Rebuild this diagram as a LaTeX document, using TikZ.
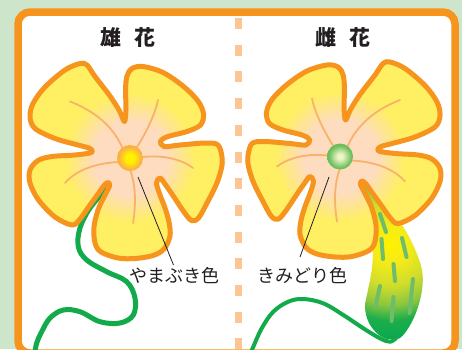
\documentclass[tikz,border=0pt]{standalone}
\usepackage{fontspec}
\newfontfamily\jpfont{Noto Sans CJK JP}

\definecolor{mint}{HTML}{CDE6CB}
\definecolor{frameorange}{HTML}{F7941D}
\definecolor{dashorange}{HTML}{FCC694}
\definecolor{inkgray}{HTML}{231F20}
\definecolor{peach}{HTML}{FDDCC0}
\definecolor{petalyellow}{HTML}{FFEF62}
\definecolor{veinorange}{HTML}{F9B26B}
\definecolor{dotyellow}{HTML}{FFF200}
\definecolor{dotorange}{HTML}{FBB040}
\definecolor{dotpale}{HTML}{EEF5C8}
\definecolor{dotgreen}{HTML}{6CBE5C}
\definecolor{stemgreen}{HTML}{12AA4B}
\definecolor{stripegreen}{HTML}{6DBD6A}
\definecolor{fruitA}{HTML}{FFF200}
\definecolor{fruitB}{HTML}{F4EB18}
\definecolor{fruitC}{HTML}{CFDD2B}
\definecolor{fruitD}{HTML}{8CC63F}
\definecolor{fruitE}{HTML}{1DAE4B}
\definecolor{fruitF}{HTML}{0AA84F}

% petal colouring: peach heart fading to yellow tips
\pgfdeclareradialshading{petalglow}{\pgfpoint{0bp}{0bp}}{%
  color(0bp)=(peach); color(7bp)=(peach); color(12.5bp)=(petalyellow);
  color(25bp)=(petalyellow); color(50bp)=(petalyellow)}
% stamen (male) and stigma (female) centres
\pgfdeclareradialshading{sundot}{\pgfpoint{0bp}{0bp}}{%
  color(0bp)=(dotyellow); color(8bp)=(dotyellow); color(22bp)=(dotorange);
  color(25bp)=(dotorange); color(50bp)=(dotorange)}
\pgfdeclareradialshading{leafdot}{\pgfpoint{0bp}{0bp}}{%
  color(0bp)=(dotpale); color(5bp)=(dotpale); color(22bp)=(dotgreen);
  color(25bp)=(dotgreen); color(50bp)=(dotgreen)}
% young cucumber body
\pgfdeclareradialshading{fruitglow}{\pgfpoint{0bp}{0bp}}{%
  color(0bp)=(fruitA); color(5bp)=(fruitB); color(11bp)=(fruitC);
  color(16bp)=(fruitD); color(20bp)=(fruitE); color(25bp)=(fruitF);
  color(50bp)=(fruitF)}

\tikzset{
  petalshape/.style={insert path={plot[smooth cycle, tension=0.55] coordinates {
    (124.5,121.5) (126,108) (125.5,90) (127,76) (132,68.5) (143,66.5)
    (163,72.5) (183,86) (198,101) (203.5,114) (200.5,125) (187,131.5)
    (168,136.5) (160.5,141)
    (164,146.5) (180,145) (206,143) (218,145) (222,157) (221.5,168)
    (216.5,184) (207,203) (198.5,218) (191.5,220.5) (184,212) (174,197)
    (165,184) (160,178)
    (156.5,183) (160,195) (165,208) (169,222) (170,236) (164,249)
    (153,255.5) (135,258.5) (118,258) (101,252) (95,243) (94,227)
    (98,210) (104,197) (109.5,186) (108,182.5)
    (104,185.5) (98,194) (90,205) (80,219) (72,225) (55,217) (38.5,200)
    (30,183) (30,170) (38,160.5) (52,156.5) (75,155) (91.5,152.5)
    (90,148.5) (78,145) (55,138.5) (35,128.5) (30,117) (33,103.5)
    (45,87) (65,70) (80,63.5) (87,65) (95,76.5) (110,96) (119.5,111)}}},
  petaledge/.style={draw=frameorange, line width=5pt, line join=round},
  vein/.style={draw=veinorange, line width=1.8pt, line cap=round},
  stemline/.style={draw=stemgreen, line cap=round},
  stripe/.style={draw=stripegreen, line width=4pt, line cap=round},
  leader/.style={draw=inkgray, line width=0.8pt},
  title/.style={font=\jpfont\bfseries\fontsize{21}{21}\selectfont, text=inkgray, inner sep=0pt},
  colourlabel/.style={font=\jpfont\fontsize{18}{18}\selectfont, text=inkgray, inner sep=0pt},
}

% one flower: petals, veins and centre, drawn around (130,158)
\newcommand{\drawflower}[1]{%
  \begin{scope}
    \clip[petalshape];
    \shade[shading=petalglow] (130,158) circle (130);
  \end{scope}
  \path[petaledge, petalshape];
  \draw[vein] (124,152) .. controls (117,132) and (100,113) .. (70,101.5);
  \draw[vein] (135,150) .. controls (145,135) and (155,115) .. (158,100);
  \draw[vein] (143,157) .. controls (160,155) and (180,158) .. (193,168);
  \draw[vein] (130,170) .. controls (136,185) and (136,205) .. (133,223);
  \draw[vein] (118,162) .. controls (100,163) and (78,168) .. (65,183);
  \shade[shading=#1] (130,158) circle (13);
}

\begin{document}
\begin{tikzpicture}[x=1pt, y=-1pt]
\useasboundingbox (0,0) rectangle (462,349);
\fill[mint] (0,0) rectangle (462,349);

% card with orange frame
\filldraw[fill=white, draw=frameorange, line width=7.5pt, rounded corners=12pt]
  (18,12) rectangle (455,353);

% dashed divider between the two halves
\coordinate (divtop) at (238.5,18);
\coordinate (divbot) at (238.5,352);
\draw[dashorange, line width=7pt, dash pattern=on 11pt off 15.7pt] (divtop) -- (divbot);

% headings
\node[title] (maletitle) at (128,38) {雄\hspace{14pt}花};
\node[title] (femaletitle) at (343,38) {雌\hspace{14pt}花};

% ---- male flower ----
\draw[stemline, line width=5pt] plot[smooth, tension=0.6] coordinates {
  (111,182) (106.7,188.3) (90,208) (80,228) (78.3,246.7) (86.7,260)
  (106.7,271.7) (126.7,281.7) (135,298) (133.3,315) (120,323) (100,321.7)
  (80,311.7) (63.3,310) (50,318) (41.7,331.7) (36.7,343) (35,352)};
\drawflower{sundot}

\coordinate (maletip) at (138,177);
\node[colourlabel] (malelabel) at (174,276) {やまぶき色};
\coordinate (maleend) at (173.5,265);
\draw[leader] (maletip) -- (maleend);

% ---- female flower ----
\draw[stemline, line width=4pt] plot[smooth, tension=0.6] coordinates {
  (251,352) (253.3,346.7) (261.7,328.3) (273.3,311.7) (288.3,301.7)
  (303.3,299) (323.3,303.3) (343.3,315) (363.3,328.3) (380,338.3)
  (390,341.7) (396,338)};

\begin{scope}
  \clip plot[smooth cycle, tension=0.6] coordinates {
    (362,186) (369,205) (372,225) (373,245) (372,268) (368,290) (365,307)
    (369,323) (379,335) (391,340) (400,338) (409,327) (417,310) (422,290)
    (422,270) (414,247) (402,225) (388,208) (372,192)};
  \shade[shading=fruitglow] (390,244) circle (95);
\end{scope}
\draw[stripe] (380,214) -- (386,232);
\draw[stripe] (381.5,239) -- (383,259);
\draw[stripe] (402,238) -- (406.5,257);
\draw[stripe] (393.5,264) -- (395,281);
\draw[stripe] (380,286) -- (375.5,306);
\draw[stripe] (393.5,297) -- (391.5,321);
\draw[stripe] (413,279) -- (409.5,313);

\begin{scope}[shift={(470,-1.5)}, xscale=-1]
  \drawflower{leafdot}
\end{scope}

\coordinate (femaletip) at (329,177);
\node[colourlabel] (femalelabel) at (302,276) {きみどり色};
\coordinate (femaleend) at (300,257);
\draw[leader] (femaletip) -- (femaleend);
\end{tikzpicture}
\end{document}
